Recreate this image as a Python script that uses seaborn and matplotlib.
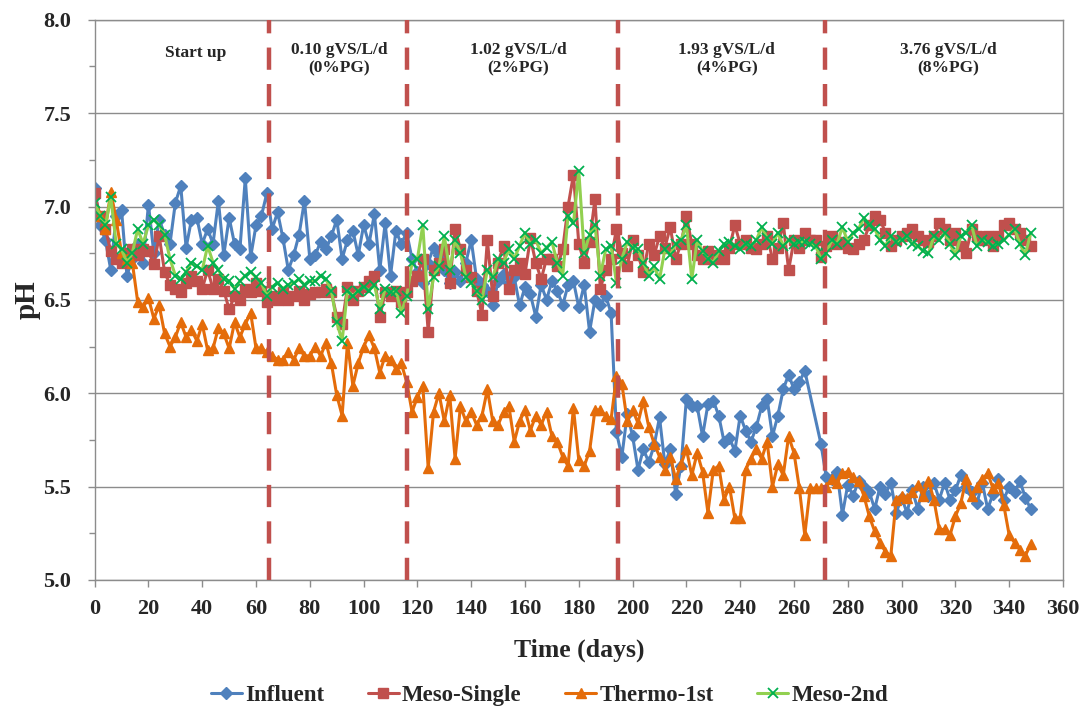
import numpy as np
import pandas as pd
import matplotlib
matplotlib.use("Agg")
import matplotlib.pyplot as plt
import seaborn as sns

days = list(range(0, 350, 2))

influent = [7.10, 6.90, 6.82, 6.66, 6.95, 6.98, 6.63, 6.72, 6.80, 6.70,
            7.01, 6.75, 6.93, 6.85, 6.80, 7.02, 7.11, 6.78, 6.93, 6.94,
            6.80, 6.88, 6.80, 7.03, 6.74, 6.94, 6.80, 6.77, 7.15, 6.73,
            6.90, 6.95, 7.07, 6.88, 6.97, 6.83, 6.66, 6.74, 6.85, 7.03,
            6.72, 6.74, 6.81, 6.77, 6.84, 6.93, 6.72, 6.82, 6.87, 6.74,
            6.90, 6.80, 6.96, 6.66, 6.91, 6.63, 6.87, 6.80, 6.86, 6.72,
            6.65, 6.59, 6.70, 6.78, 6.74, 6.66, 6.59, 6.65, 6.60, 6.70,
            6.82, 6.61, 6.58, 6.55, 6.47, 6.60, 6.64, 6.59, 6.62, 6.47,
            6.57, 6.53, 6.41, 6.58, 6.50, 6.60, 6.55, 6.47, 6.58, 6.60,
            6.46, 6.58, 6.33, 6.50, 6.47, 6.52, 6.43, 5.79, 5.66, 5.89,
            5.77, 5.59, 5.70, 5.63, 5.72, 5.87, 5.62, 5.70, 5.46, 5.61,
            5.97, 5.93, 5.93, 5.77, 5.94, 5.96, 5.88, 5.74, 5.76, 5.69,
            5.88, 5.80, 5.74, 5.82, 5.93, 5.97, 5.77, 5.88, 6.02, 6.10,
            6.02, 6.06, 6.12, np.nan, np.nan, 5.73, 5.55, 5.54, 5.58, 5.35,
            5.51, 5.45, 5.53, 5.50, 5.47, 5.38, 5.50, 5.46, 5.52, 5.36,
            5.44, 5.36, 5.48, 5.38, 5.50, 5.45, 5.52, 5.43, 5.52, 5.43,
            5.48, 5.56, 5.50, 5.47, 5.41, 5.52, 5.38, 5.46, 5.54, 5.43,
            5.50, 5.47, 5.53, 5.44, 5.38]

meso_single = [7.07, 6.95, 6.88, 6.76, 6.72, 6.70, 6.75, 6.77, 6.74, 6.77,
               6.76, 6.69, 6.84, 6.65, 6.58, 6.56, 6.54, 6.59, 6.63, 6.60,
               6.56, 6.66, 6.56, 6.61, 6.55, 6.45, 6.52, 6.50, 6.56, 6.54,
               6.59, 6.55, 6.49, 6.52, 6.50, 6.54, 6.50, 6.52, 6.55, 6.50,
               6.53, 6.54, 6.54, 6.56, 6.54, 6.41, 6.37, 6.57, 6.50, 6.55,
               6.57, 6.60, 6.63, 6.41, 6.54, 6.52, 6.55, 6.49, 6.54, 6.60,
               6.63, 6.72, 6.33, 6.66, 6.70, 6.77, 6.59, 6.88, 6.77, 6.66,
               6.62, 6.55, 6.42, 6.82, 6.52, 6.70, 6.79, 6.56, 6.66, 6.70,
               6.64, 6.83, 6.70, 6.61, 6.72, 6.72, 6.68, 6.77, 7.00, 7.17,
               6.80, 6.70, 6.81, 7.04, 6.56, 6.66, 6.72, 6.88, 6.75, 6.68,
               6.82, 6.74, 6.65, 6.80, 6.74, 6.84, 6.78, 6.89, 6.72, 6.80,
               6.95, 6.80, 6.74, 6.72, 6.76, 6.72, 6.74, 6.72, 6.78, 6.90,
               6.80, 6.82, 6.78, 6.77, 6.80, 6.84, 6.72, 6.78, 6.91, 6.66,
               6.82, 6.78, 6.86, 6.82, 6.82, 6.73, 6.79, 6.84, 6.80, 6.81,
               6.78, 6.77, 6.80, 6.82, 6.90, 6.95, 6.93, 6.86, 6.79, 6.82,
               6.84, 6.86, 6.88, 6.84, 6.82, 6.81, 6.84, 6.91, 6.88, 6.82,
               6.86, 6.79, 6.75, 6.88, 6.84, 6.82, 6.84, 6.79, 6.84, 6.90,
               6.91, 6.88, 6.86, 6.82, 6.79]

thermo_1st = [7.00, 6.95, 6.88, 7.08, 6.93, 6.75, 6.72, 6.70, 6.49, 6.46,
              6.51, 6.40, 6.47, 6.32, 6.25, 6.30, 6.38, 6.30, 6.34, 6.28,
              6.37, 6.23, 6.24, 6.35, 6.32, 6.24, 6.38, 6.30, 6.37, 6.43,
              6.24, 6.24, 6.22, 6.20, 6.18, 6.18, 6.22, 6.18, 6.24, 6.20,
              6.20, 6.25, 6.20, 6.27, 6.16, 5.99, 5.88, 6.27, 6.04, 6.16,
              6.25, 6.31, 6.24, 6.11, 6.20, 6.18, 6.13, 6.16, 6.06, 5.90,
              5.98, 6.04, 5.60, 5.90, 6.00, 5.85, 5.99, 5.65, 5.93, 5.85,
              5.90, 5.83, 5.88, 6.02, 5.85, 5.83, 5.90, 5.93, 5.74, 5.85,
              5.91, 5.80, 5.88, 5.83, 5.90, 5.77, 5.74, 5.66, 5.61, 5.92,
              5.64, 5.61, 5.69, 5.91, 5.91, 5.88, 5.86, 6.09, 6.05, 5.85,
              5.91, 5.84, 5.96, 5.82, 5.73, 5.66, 5.59, 5.66, 5.54, 5.62,
              5.70, 5.56, 5.68, 5.58, 5.36, 5.59, 5.61, 5.43, 5.50, 5.33,
              5.33, 5.59, 5.65, 5.70, 5.65, 5.74, 5.50, 5.62, 5.56, 5.77,
              5.68, 5.49, 5.24, 5.49, 5.49, 5.49, 5.50, 5.54, 5.52, 5.57,
              5.58, 5.55, 5.53, 5.45, 5.34, 5.26, 5.20, 5.15, 5.13, 5.43,
              5.45, 5.44, 5.47, 5.51, 5.45, 5.53, 5.43, 5.27, 5.27, 5.24,
              5.34, 5.41, 5.54, 5.45, 5.50, 5.54, 5.57, 5.49, 5.52, 5.40,
              5.24, 5.20, 5.16, 5.13, 5.19]

meso_2nd = [7.02, 6.95, 6.90, 7.05, 6.80, 6.77, 6.70, 6.75, 6.88, 6.80,
            6.90, 6.93, 6.90, 6.85, 6.72, 6.63, 6.61, 6.65, 6.70, 6.68,
            6.66, 6.79, 6.70, 6.66, 6.61, 6.60, 6.56, 6.60, 6.63, 6.65,
            6.62, 6.59, 6.52, 6.57, 6.59, 6.56, 6.58, 6.59, 6.61, 6.58,
            6.60, 6.60, 6.63, 6.61, 6.55, 6.38, 6.28, 6.55, 6.52, 6.55,
            6.57, 6.55, 6.58, 6.45, 6.56, 6.54, 6.55, 6.43, 6.52, 6.70,
            6.72, 6.90, 6.45, 6.62, 6.68, 6.84, 6.66, 6.82, 6.75, 6.62,
            6.59, 6.55, 6.50, 6.66, 6.62, 6.72, 6.70, 6.77, 6.72, 6.79,
            6.86, 6.80, 6.82, 6.75, 6.78, 6.81, 6.70, 6.63, 6.95, 6.91,
            7.19, 6.75, 6.85, 6.90, 6.63, 6.77, 6.79, 6.59, 6.72, 6.81,
            6.78, 6.77, 6.70, 6.63, 6.68, 6.61, 6.77, 6.74, 6.80, 6.82,
            6.90, 6.61, 6.82, 6.76, 6.72, 6.70, 6.76, 6.80, 6.81, 6.79,
            6.77, 6.80, 6.79, 6.82, 6.89, 6.83, 6.80, 6.86, 6.79, 6.82,
            6.80, 6.81, 6.81, 6.80, 6.79, 6.72, 6.75, 6.82, 6.80, 6.89,
            6.81, 6.86, 6.88, 6.94, 6.90, 6.88, 6.82, 6.79, 6.84, 6.81,
            6.82, 6.84, 6.80, 6.79, 6.76, 6.75, 6.84, 6.82, 6.86, 6.80,
            6.74, 6.84, 6.86, 6.90, 6.79, 6.82, 6.81, 6.79, 6.80, 6.82,
            6.85, 6.88, 6.80, 6.74, 6.86]

phase_days = [65, 116, 194.5, 271.5]
phase_labels = ["Start up", "0.10 gVS/L/d\n(0%PG)", "1.02 gVS/L/d\n(2%PG)",
                "1.93 gVS/L/d\n(4%PG)", "3.76 gVS/L/d\n(8%PG)"]
label_x = [37.5, 91, 157.5, 235, 317.5]
label_y = [7.82, 7.79, 7.79, 7.79, 7.79]

x_ticks = list(range(0, 361, 20))
y_ticks = [5.0, 5.5, 6.0, 6.5, 7.0, 7.5, 8.0]

sns.set_theme(style="white")
serif = "Liberation Serif"
plt.rcParams["font.family"] = [serif, "DejaVu Serif"]
plt.rcParams["font.weight"] = "bold"

fig = plt.figure(figsize=(10.88, 7.08), dpi=100)
ax = fig.add_axes([0.087, 0.181, 0.89, 0.791])

series = [
    ("Influent", influent, "#4F81BD", "#4F81BD", "D", 6.0, 1.0),
    ("Meso-Single", meso_single, "#C0504D", "#C0504D", "s", 6.5, 1.0),
    ("Thermo-1st", thermo_1st, "#E46C0A", "#E46C0A", "^", 7.5, 1.0),
    ("Meso-2nd", meso_2nd, "#92D050", "#00B050", "x", 6.5, 1.3),
]

for name, vals, lc, mc, mk, ms, mew in series:
    df = pd.DataFrame({"day": days, "pH": vals}).dropna()
    sns.lineplot(data=df, x="day", y="pH", ax=ax, color=lc, linewidth=2.2,
                 marker=mk, markersize=ms, markerfacecolor=mc,
                 markeredgecolor=mc, markeredgewidth=mew, label=name,
                 sort=False, estimator=None)

for d in phase_days:
    ax.axvline(d, color="#C0504D", linewidth=3.2, linestyle=(0, (5, 3.2)),
               zorder=5)

for t, x, y in zip(phase_labels, label_x, label_y):
    ax.text(x, y, t, ha="center", va="center", fontsize=12.5,
            fontweight="bold", linespacing=1.2)

ax.set_xlim(0, 360)
ax.set_ylim(5.0, 8.0)
ax.set_xticks(x_ticks)
ax.set_yticks(y_ticks)
ax.set_yticks(np.arange(5.0, 8.01, 0.25), minor=True)
ax.set_yticklabels([f"{v:.1f}" for v in y_ticks])
ax.yaxis.grid(True, color="#8c8c8c", linewidth=1.0)
ax.xaxis.grid(False)
ax.set_axisbelow(True)

for s in ax.spines.values():
    s.set_color("#8c8c8c")
    s.set_linewidth(1.0)

ax.tick_params(axis="both", which="major", labelsize=16, direction="out",
               length=5, color="#8c8c8c", width=1, left=True, bottom=True)
ax.tick_params(axis="x", which="major", pad=9)
ax.tick_params(axis="y", which="major", pad=12)
ax.tick_params(axis="y", which="minor", direction="out", length=4,
               color="#8c8c8c", width=1, left=True)
for lab in ax.get_xticklabels() + ax.get_yticklabels():
    lab.set_fontweight("bold")

ax.set_xlabel("Time (days)", fontsize=18.5, fontweight="bold", labelpad=14)
ax.set_ylabel("pH", fontsize=21, fontweight="bold", labelpad=2)

ax.get_legend().remove()
handles, labels = ax.get_legend_handles_labels()
fig.legend(handles, labels, loc="center", bbox_to_anchor=(0.505, 0.018),
           ncol=4, frameon=False, handlelength=1.35,
           columnspacing=1.9, handletextpad=0.15,
           prop={"family": serif, "weight": "bold", "size": 16.5})

fig.savefig("out.png", dpi=100)
